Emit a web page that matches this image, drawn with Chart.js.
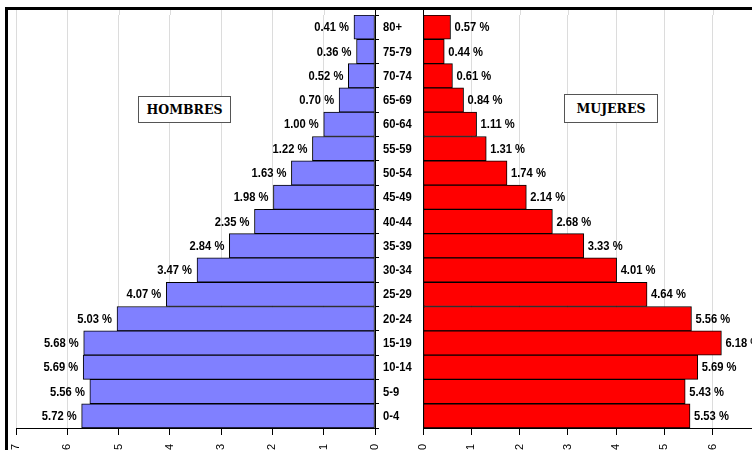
<!DOCTYPE html>
<html><head><meta charset="utf-8">
<script src="https://cdn.jsdelivr.net/npm/chart.js@4/dist/chart.umd.min.js"></script>
<style>
html,body{margin:0;padding:0;width:752px;height:450px;overflow:hidden;background:#fff;}
#wrap{position:relative;width:752px;height:450px;overflow:hidden;}
canvas{position:absolute;top:0;}
#left{left:0;}
#right{left:375px;}
#frame{position:absolute;left:5px;top:7px;width:900px;height:600px;border-left:3px solid #000;border-top:3px solid #000;pointer-events:none;}
.tag{position:absolute;background:#fff;border:1px solid #555;font:bold 12.5px "DejaVu Serif",serif;color:#000;display:flex;align-items:center;justify-content:center;box-sizing:border-box;}
</style></head><body>
<div id="wrap">
<canvas id="left" width="415" height="470"></canvas>
<canvas id="right" width="430" height="470"></canvas>
<div id="frame"></div>
<div class="tag" style="left:138px;top:96px;width:93px;height:27px;">HOMBRES</div>
<div class="tag" style="left:564px;top:94px;width:94px;height:29px;">MUJERES</div>
</div>
<script>
const categories = ["80+","75-79","70-74","65-69","60-64","55-59","50-54","45-49","40-44","35-39","30-34","25-29","20-24","15-19","10-14","5-9","0-4"];
const hombres = [0.41,0.36,0.52,0.70,1.00,1.22,1.63,1.98,2.35,2.84,3.47,4.07,5.03,5.68,5.69,5.56,5.72];
const mujeres = [0.57,0.44,0.61,0.84,1.11,1.31,1.74,2.14,2.68,3.33,4.01,4.64,5.56,6.18,5.69,5.43,5.53];
const axisMin = 0;
const axisMax = 7;

const labelFont = 'bold 13px "Liberation Sans", Arial, sans-serif';
const squeeze = 0.86;
Chart.defaults.font.family = '"Liberation Sans", Arial, sans-serif';
Chart.defaults.color = '#000';

function drawSqueezed(ctx, txt, x, y, align) {
  ctx.save();
  ctx.translate(x, y);
  ctx.scale(squeeze, 1);
  ctx.textAlign = align;
  ctx.fillText(txt, 0, 0);
  ctx.restore();
}

const TOP_EDGE = 10;
const extendTop = {
  id: 'extendTop',
  beforeDatasetsDraw(chart) {
    const ctx = chart.ctx, xs = chart.scales.x, ys = chart.scales.y, top = chart.chartArea.top;
    ctx.save();
    ctx.strokeStyle = '#dcdcdc'; ctx.lineWidth = 1;
    xs.ticks.forEach((t, i) => {
      const px = Math.round(xs.getPixelForTick(i)) + 0.5;
      ctx.beginPath(); ctx.moveTo(px, TOP_EDGE); ctx.lineTo(px, top); ctx.stroke();
    });
    const bx = ys.position === 'right' ? chart.chartArea.right : chart.chartArea.left;
    ctx.strokeStyle = '#000';
    ctx.beginPath(); ctx.moveTo(Math.round(bx) + 0.5, TOP_EDGE); ctx.lineTo(Math.round(bx) + 0.5, top + 1); ctx.stroke();
    ctx.restore();
  }
};

const valueLabels = {
  id: 'valueLabels',
  afterDatasetsDraw(chart, args, opts) {
    const ctx = chart.ctx;
    const meta = chart.getDatasetMeta(0);
    const data = chart.data.datasets[0].data;
    ctx.save();
    ctx.font = labelFont;
    ctx.fillStyle = '#000';
    ctx.textBaseline = 'middle';
    meta.data.forEach((bar, i) => {
      const txt = data[i].toFixed(2) + ' %';
      if (opts.side === 'left') drawSqueezed(ctx, txt, bar.x - 5, bar.y + 0.5, 'right');
      else drawSqueezed(ctx, txt, bar.x + 4, bar.y + 0.5, 'left');
    });
    if (opts.side === 'right') {
      const ys = chart.scales.y;
      ys.ticks.forEach((t, i) => {
        drawSqueezed(ctx, ys.getLabelForValue(t.value), ys.left, ys.getPixelForTick(i) + 0.5, 'left');
      });
    }
    ctx.restore();
  }
};

function xAxis(reverse, h) {
  return {
    type: 'linear', min: axisMin, max: axisMax, reverse: reverse,
    ticks: { stepSize: 1, minRotation: 90, maxRotation: 90, padding: 9, font: { size: 11 }, color: '#000', autoSkip: false },
    grid: { color: '#dcdcdc', tickColor: '#000', tickLength: 7, lineWidth: 1 },
    border: { display: true, color: '#000', width: 1 },
    afterFit(s) { s.height = h; }
  };
}

new Chart(document.getElementById('left'), {
  type: 'bar',
  data: { labels: categories, datasets: [{ data: hombres, backgroundColor: '#8080ff', borderColor: '#000', borderWidth: 1, borderSkipped: false, barPercentage: 1, categoryPercentage: 1 }] },
  options: {
    indexAxis: 'y', responsive: false, animation: false,
    layout: { padding: { left: 16, right: 36, top: 15, bottom: 0 } },
    plugins: { legend: { display: false }, tooltip: { enabled: false }, valueLabels: { side: 'left' } },
    scales: {
      x: xAxis(true, 42),
      y: {
        position: 'right',
        ticks: { display: false },
        grid: { display: true, drawOnChartArea: false, offset: true, tickLength: 4, color: '#000', tickColor: '#000' },
        border: { display: true, color: '#000', width: 1 },
        afterFit(s) { s.width = 4; }
      }
    }
  },
  plugins: [extendTop, valueLabels]
});

new Chart(document.getElementById('right'), {
  type: 'bar',
  data: { labels: categories, datasets: [{ data: mujeres, backgroundColor: '#ff0000', borderColor: '#000', borderWidth: 1, borderSkipped: false, barPercentage: 1, categoryPercentage: 1 }] },
  options: {
    indexAxis: 'y', responsive: false, animation: false,
    layout: { padding: { left: 8, right: 44, top: 15, bottom: 0 } },
    plugins: { legend: { display: false }, tooltip: { enabled: false }, valueLabels: { side: 'right' } },
    scales: {
      x: xAxis(false, 42),
      y: {
        position: 'left',
        ticks: { display: false },
        grid: { display: false },
        border: { display: true, color: '#000', width: 1 },
        afterFit(s) { s.width = 40; }
      }
    }
  },
  plugins: [extendTop, valueLabels]
});
</script>
</body></html>
